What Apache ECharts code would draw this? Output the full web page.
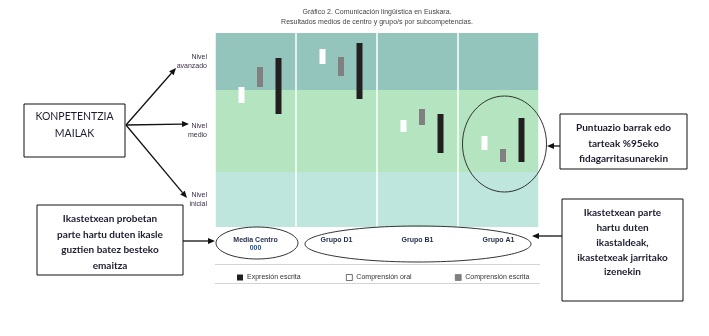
<!DOCTYPE html>
<html>
<head>
<meta charset="utf-8">
<script src="https://cdn.jsdelivr.net/npm/echarts@6/dist/echarts.min.js"></script>
<style>html,body{margin:0;padding:0;background:#fff}#c{width:709px;height:336px}</style>
</head>
<body>
<div id="c"></div>
<script>
// ---- data ----
var categories = ['Media Centro\n000', 'Grupo D1', 'Grupo B1', 'Grupo A1'];
var expresionLow  = [113, 128, 74, 65];
var expresionHigh = [169, 184, 113, 109];
var oralLow       = [124, 163, 95, 77];
var oralHigh      = [140, 178, 107, 91];
var escritaLow    = [140, 151, 102, 65];
var escritaHigh   = [160, 170, 118, 78];
var bandLimits = [0, 55, 137, 194];
var bandNames = ['Nivel\ninicial', 'Nivel\nmedio', 'Nivel\navanzado'];
var seriesNames = ['Expresión escrita', 'Comprensión oral', 'Comprensión escrita'];

var chart = echarts.init(document.getElementById('c'));

function rows(lo, hi) { return lo.map(function (v, i) { return [i, v, hi[i]]; }); }
function mkRender(offset, fill, stroke) {
  return function (params, api) {
    var x = api.value(0);
    var p1 = api.coord([x, api.value(2)]);
    var p2 = api.coord([x, api.value(1)]);
    return {
      type: 'rect',
      shape: { x: p1[0] + offset - 3, y: p1[1], width: 6, height: p2[1] - p1[1] },
      style: { fill: fill, stroke: stroke || null, lineWidth: stroke ? 0.5 : 0 }
    };
  };
}

var bandColors = ['#bfe6dc', '#b5e5c0', '#94c5bd'];
var bandData = [];
for (var i = 0; i < 3; i++) {
  bandData.push([{ yAxis: bandLimits[i], itemStyle: { color: bandColors[i] } }, { yAxis: bandLimits[i + 1] }]);
}

function arrow(x1, y1, x2, y2) {
  var ang = Math.atan2(y2 - y1, x2 - x1), L = 7, W = 3;
  var bx = x2 - L * Math.cos(ang), by = y2 - L * Math.sin(ang);
  var px = -Math.sin(ang) * W, py = Math.cos(ang) * W;
  return [
    { type: 'line', shape: { x1: x1, y1: y1, x2: bx, y2: by }, style: { stroke: '#111', lineWidth: 1.3 }, z: 10 },
    { type: 'polygon', shape: { points: [[x2, y2], [bx + px, by + py], [bx - px, by - py]] }, style: { fill: '#111' }, z: 10 }
  ];
}
function box(x, y, w, h, lines, cy, gap, size, weight) {
  var els = [{ type: 'rect', shape: { x: x, y: y, width: w, height: h }, style: { fill: '#fff', stroke: '#111', lineWidth: 1 }, z: 10 }];
  lines.forEach(function (t, i) {
    els.push({ type: 'text', x: x + w / 2, y: cy + i * gap, z: 11,
      style: { text: t, fill: '#1c1c30', font: weight + ' ' + size + 'px Lato, "Liberation Sans", sans-serif', align: 'center', verticalAlign: 'middle' } });
  });
  return els;
}
function ell(cx, cy, rx, ry) {
  return { type: 'ellipse', shape: { cx: cx, cy: cy, rx: rx, ry: ry }, style: { fill: null, stroke: '#333', lineWidth: 1 }, z: 9 };
}

var graphics = [];
graphics.push({ type: 'text', x: 377, y: 12, style: { text: 'Gráfico 2. Comunicación lingüística en Euskara.', fill: '#444', font: '7px "Liberation Sans", sans-serif', align: 'center', verticalAlign: 'middle' } });
graphics.push({ type: 'text', x: 377, y: 22, style: { text: 'Resultados medios de centro y grupo/s por subcompetencias.', fill: '#444', font: '7px "Liberation Sans", sans-serif', align: 'center', verticalAlign: 'middle' } });
graphics.push({ type: 'line', shape: { x1: 215, y1: 264.5, x2: 540, y2: 264.5 }, style: { stroke: '#d4d4d4', lineWidth: 1 } });
graphics.push({ type: 'line', shape: { x1: 215, y1: 283.5, x2: 540, y2: 283.5 }, style: { stroke: '#d4d4d4', lineWidth: 1 } });
graphics = graphics.concat(
  box(24, 104, 101, 53, ['KONPETENTZIA', 'MAILAK'], 117, 17, 10.5, 'normal'),
  box(37, 205, 146, 70, ['Ikastetxean probetan', 'parte hartu duten ikasle', 'guztien batez besteko', 'emaitza'], 219, 15.5, 10, 'bold'),
  box(560, 114, 127, 55, ['Puntuazio barrak edo', 'tarteak %95eko', 'fidagarritasunarekin'], 128, 15.5, 10, 'bold'),
  box(562, 199, 121, 102, ['Ikastetxean parte', 'hartu duten', 'ikastaldeak,', 'ikastetxeak jarritako', 'izenekin'], 213, 14.8, 10, 'bold'),
  arrow(126, 125, 176, 68), arrow(126, 125, 189, 124), arrow(126, 125, 187, 198),
  arrow(183, 241, 215, 241), arrow(560, 146, 547, 146), arrow(562, 236, 532, 236),
  [ell(257, 243, 41, 16), ell(418, 244, 113, 18), ell(504.5, 144, 42, 48)]
);

var option = {
  backgroundColor: '#fff',
  animation: false,
  grid: { left: 215, right: 170, top: 33, bottom: 109 },
  xAxis: {
    type: 'category', data: categories, z: 3,
    axisLine: { show: false }, axisTick: { show: false },
    splitLine: { show: true, interval: 0, lineStyle: { color: '#ffffff', width: 1.5 } },
    axisLabel: {
      margin: 9, interval: 0,
      formatter: function (v) {
        var p = v.split('\n');
        return '{a|' + p[0] + '}' + (p[1] ? '\n{b|' + p[1] + '}' : '');
      },
      rich: {
        a: { fontFamily: 'Liberation Sans', fontSize: 7, fontWeight: 'bold', color: '#1f2a4a', lineHeight: 8 },
        b: { fontFamily: 'Liberation Sans', fontSize: 7, fontWeight: 'bold', color: '#1f4f8a', lineHeight: 8 }
      }
    }
  },
  yAxis: {
    type: 'value', min: bandLimits[0], max: bandLimits[3],
    axisLine: { show: false }, axisTick: { show: false }, splitLine: { show: false },
    axisLabel: { show: false }
  },
  legend: [0, 1, 2].map(function (k) {
    var styles = [
      { color: '#231f20' },
      { color: '#ffffff', borderColor: '#333', borderWidth: 0.7 },
      { color: '#808080', borderColor: '#555', borderWidth: 0.5 }
    ];
    return {
      left: [232, 341, 450][k], top: 269, itemWidth: 6, itemHeight: 6, itemGap: 0, selectedMode: false,
      textStyle: { fontFamily: 'Liberation Sans', fontSize: 7, color: '#333', padding: [0, 0, 0, -1] },
      data: [{ name: seriesNames[k], icon: 'rect', itemStyle: styles[k] }]
    };
  }),
  series: [
    { type: 'line', data: [], silent: true, markArea: { silent: true, data: bandData } },
    { name: seriesNames[1], type: 'custom', renderItem: mkRender(-14, '#ffffff'), data: rows(oralLow, oralHigh), itemStyle: { color: '#ffffff' } },
    { name: seriesNames[2], type: 'custom', renderItem: mkRender(4.5, '#808080'), data: rows(escritaLow, escritaHigh), itemStyle: { color: '#808080' } },
    { name: seriesNames[0], type: 'custom', renderItem: mkRender(23, '#231f20'), data: rows(expresionLow, expresionHigh), itemStyle: { color: '#231f20' } }
  ],
  graphic: graphics.concat(bandNames.map(function (t, i) {
    return { type: 'text', x: 207, y: 0, z: 5, style: { text: t, fill: '#3a2e48', font: '7px "Liberation Sans", sans-serif', align: 'right', verticalAlign: 'middle', lineHeight: 9 } };
  }))
};
chart.setOption(option);
// place level labels at band centers using the y scale
var g = option.graphic;
var n = g.length;
for (var j = 0; j < 3; j++) {
  var cy = chart.convertToPixel({ yAxisIndex: 0 }, (bandLimits[j] + bandLimits[j + 1]) / 2);
  g[n - 3 + j].y = cy;
}
chart.setOption({ graphic: g });
</script>
</body>
</html>
